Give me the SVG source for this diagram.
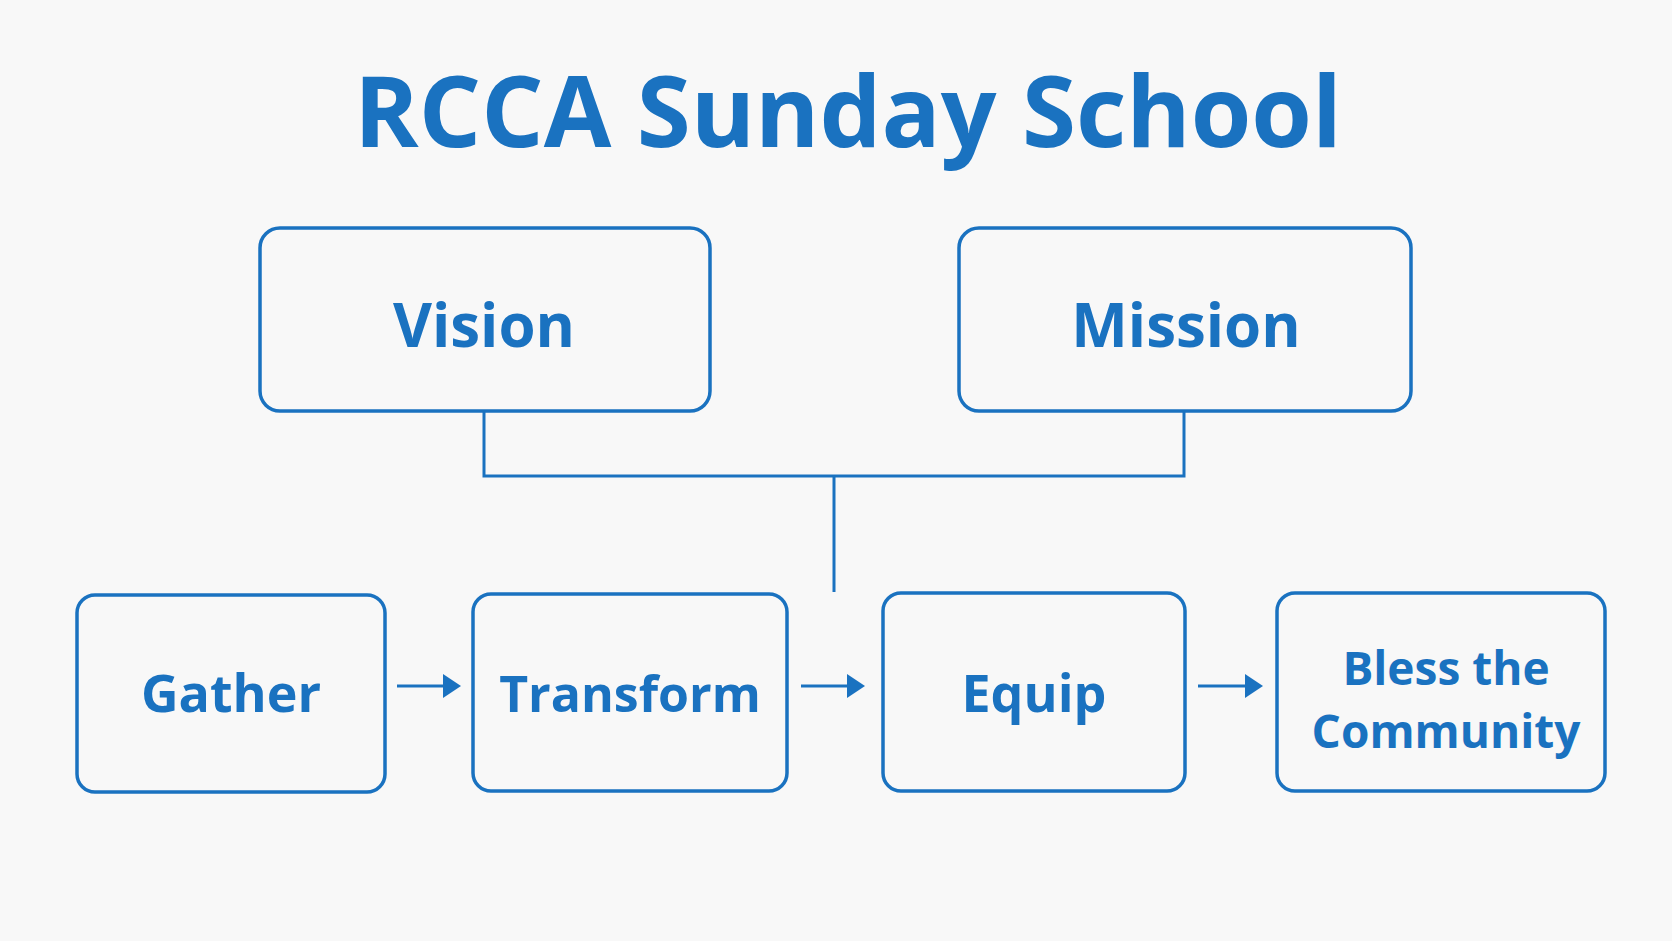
<svg xmlns="http://www.w3.org/2000/svg" width="1672" height="941" viewBox="0 0 1672 941">
<style>
.b{fill:none;stroke:#1a72c0;stroke-width:3.5}
.t{font-family:"Open Sans","Liberation Sans",sans-serif;font-weight:bold;fill:#1a72c0;text-anchor:middle}
.c{fill:none;stroke:#1a72c0;stroke-width:3}
</style>
<defs><marker id="a" markerWidth="6" markerHeight="8" refX="5" refY="4" orient="auto" markerUnits="strokeWidth"><path d="M0,0L6,4L0,8z" fill="#1a72c0"/></marker></defs>
<rect width="1672" height="941" fill="#f8f8f8"/>
<text class="t" x="848" y="147" font-size="98">RCCA Sunday School</text>
<g id="connectors">
<path class="c" d="M484,411V476H1184V411M834,476V592"/>
<path class="c" stroke-width="4.5" d="M397,686H458" marker-end="url(#a)"/>
<path class="c" stroke-width="4.5" d="M801,686H862" marker-end="url(#a)"/>
<path class="c" stroke-width="4.5" d="M1198,686H1260" marker-end="url(#a)"/>
</g>
<g id="vision"><rect class="b" x="260" y="228" width="450" height="183" rx="20"/><text class="t" x="484" y="347" font-size="60">Vision</text></g>
<g id="mission"><rect class="b" x="959" y="228" width="452" height="183" rx="20"/><text class="t" x="1186" y="347" font-size="60">Mission</text></g>
<g id="gather"><rect class="b" x="77" y="595" width="308" height="197" rx="18"/><text class="t" x="231" y="712" font-size="52">Gather</text></g>
<g id="transform"><rect class="b" x="473" y="594" width="314" height="197" rx="18"/><text class="t" x="630" y="712" font-size="50">Transform</text></g>
<g id="equip"><rect class="b" x="883" y="593" width="302" height="198" rx="18"/><text class="t" x="1034" y="712" font-size="52">Equip</text></g>
<g id="bless"><rect class="b" x="1277" y="593" width="328" height="198" rx="18"/><text class="t" x="1446" y="685" font-size="46">Bless the</text><text class="t" x="1446" y="748" font-size="46">Community</text></g>
</svg>
